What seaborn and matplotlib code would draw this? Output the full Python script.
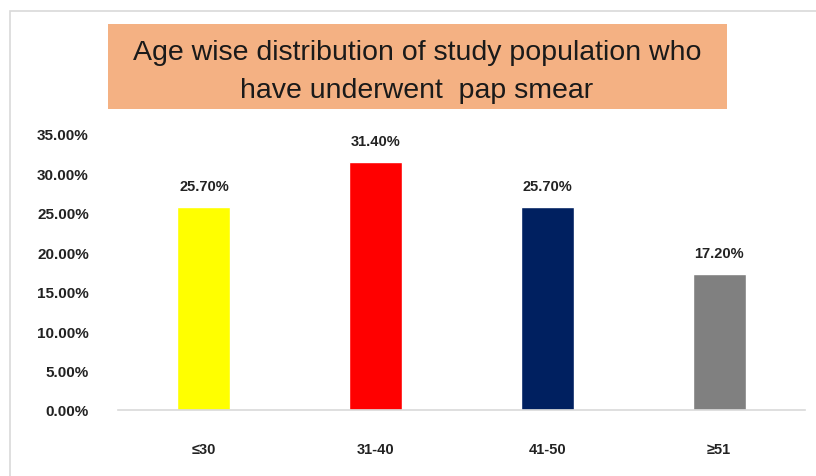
import matplotlib
matplotlib.use("Agg")
import matplotlib.pyplot as plt
import matplotlib.ticker as mtick
from matplotlib.patches import Rectangle
import seaborn as sns

# data
age_groups = ['≤30', '31-40', '41-50', '≥51']
percent = [25.7, 31.4, 25.7, 17.2]
bar_colors = ['#FFFF00', '#FF0000', '#002060', '#808080']

sns.set_style("white")
plt.rcParams['font.family'] = ['Liberation Sans', 'DejaVu Sans']

fig = plt.figure(figsize=(8.16, 4.77), dpi=100)

# outer chart frame
fig.patches.append(Rectangle((10 / 816, -0.05), 1.2, 1 - 12 / 477 + 0.05,
                             transform=fig.transFigure, fill=False,
                             edgecolor='#D9D9D9', linewidth=1.2))

ax = fig.add_axes([118 / 816, 66 / 477, 687 / 816, 276 / 477])
sns.barplot(x=age_groups, y=percent, hue=age_groups, palette=bar_colors,
            width=0.31, legend=False, ax=ax, saturation=1)

ax.set_ylim(0, 35)
ax.set_xlim(-0.5, 3.5)
ax.set_yticks([0, 5, 10, 15, 20, 25, 30, 35])
ax.yaxis.set_major_formatter(mtick.FuncFormatter(lambda v, p: f'{v:.2f}%'))
sns.despine(ax=ax, left=True)
ax.spines['bottom'].set_color('#D9D9D9')
ax.spines['bottom'].set_linewidth(1.2)
ax.tick_params(axis='both', length=0)
ax.tick_params(axis='x', pad=23, labelsize=10.5)
ax.tick_params(axis='y', pad=21, labelsize=11)
for lab in ax.get_xticklabels() + ax.get_yticklabels():
    lab.set_fontweight('bold')
    lab.set_color('#222222')
ax.set_xlabel('')
ax.set_ylabel('')

for i, v in enumerate(percent):
    ax.text(i, v + 1.8, f'{v:.2f}%', ha='center', va='bottom',
            fontsize=10.5, fontweight='bold', color='#222222')

# title box
fig.patches.append(Rectangle((108 / 816, 1 - 110 / 477), 619 / 816, 85 / 477,
                             transform=fig.transFigure, facecolor='#F4B183',
                             edgecolor='none'))
fig.text(417 / 816, 1 - 72 / 477,
         'Age wise distribution of study population who\nhave underwent  pap smear',
         ha='center', va='center', fontsize=20.5, color='#1a1a1a',
         linespacing=1.6)

fig.savefig('out.png', dpi=100)
